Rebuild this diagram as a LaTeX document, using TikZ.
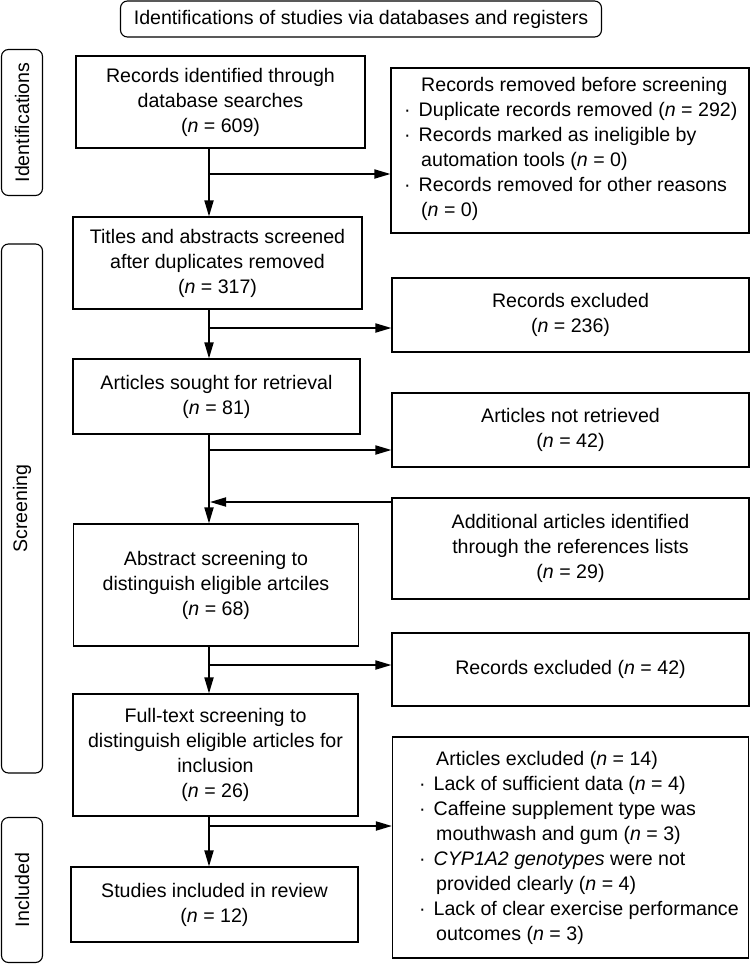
\documentclass[tikz,border=0pt]{standalone}
\usepackage{fontspec}
\setmainfont{Liberation Sans}
\usetikzlibrary{arrows.meta,positioning}
\newcommand{\itm}{\leavevmode\hspace*{-2.5pt}\llap{·\hspace{8pt}}}

\begin{document}
\begin{tikzpicture}[x=1pt,y=-1pt,
    every node/.style={font=\fontsize{19.6}{25}\selectfont},
    box/.style={draw, line width=1.1pt, inner sep=0pt, align=center},
    stage/.style={draw, line width=1.1pt, rounded corners=7pt, inner sep=0pt, rotate=90},
    arr/.style={-{Triangle[length=16pt,width=9pt]}, line width=1.8pt}]
\useasboundingbox (0,0) rectangle (750,964);

\node[box, rounded corners=7pt, minimum width=481pt, minimum height=36pt] (title) at (361,19)
    {Identifications of studies via databases and registers};

\foreach \n/\yc/\h/\t in
    {lid/122.5/146/Identifications,
     lsc/508.5/529/Screening,
     lin/890/145/Included}
{
    \node[stage, minimum width=\h pt, minimum height=41pt] (\n) at (22,\yc) {\t};
};

\node[box, minimum width=289pt, minimum height=92pt] (b1) at (220.5,102)
    {Records identified through\\database searches\\(\textit{n} = 609)};
\node[box, minimum width=289pt, minimum height=92pt] (b2) at (217.5,263)
    {Titles and abstracts screened\\after duplicates removed\\(\textit{n} = 317)};
\node[box, minimum width=287pt, minimum height=75pt] (b3) at (216.5,396.5)
    {Articles sought for retrieval\\(\textit{n} = 81)};
\node[box, minimum width=285pt, minimum height=122pt] (b4) at (216,585)
    {Abstract screening to\\distinguish eligible artciles\\(\textit{n} = 68)};
\node[box, minimum width=285pt, minimum height=122pt] (b5) at (215.5,755)
    {Full-text screening to\\distinguish eligible articles for\\inclusion\\(\textit{n} = 26)};
\node[box, minimum width=287pt, minimum height=75pt] (b6) at (214.5,904.5)
    {Studies included in review\\(\textit{n} = 12)};

\node[box, minimum width=358pt, minimum height=165pt] (r1) at (570,150.5) {};
\node[align=left, anchor=west, inner sep=0pt] (r1t) at (421,149)
    {Records removed before screening\\
     \itm Duplicate records removed (\textit{n} = 292)\\
     \itm Records marked as ineligible by\\
     automation tools (\textit{n} = 0)\\
     \itm Records removed for other reasons\\
     (\textit{n} = 0)};
\node[box, minimum width=357pt, minimum height=74pt] (r2) at (570.5,315)
    {Records excluded\\(\textit{n} = 236)};
\node[box, minimum width=357pt, minimum height=74pt] (r3) at (570.5,430)
    {Articles not retrieved\\(\textit{n} = 42)};
\node[box, minimum width=357pt, minimum height=101pt] (r4) at (570.5,548.5)
    {Additional articles identified\\through the references lists\\(\textit{n} = 29)};
\node[box, minimum width=357pt, minimum height=73pt] (r5) at (570.5,669.5)
    {Records excluded (\textit{n} = 42)};
\node[box, minimum width=356pt, minimum height=221pt] (r6) at (570.5,847.5) {};
\node[align=left, anchor=west, inner sep=0pt] (r6t) at (436,847.5)
    {Articles excluded (\textit{n} = 14)\\
     \itm Lack of sufficient data (\textit{n} = 4)\\
     \itm Caffeine supplement type was\\
     mouthwash and gum (\textit{n} = 3)\\
     \itm \textit{CYP1A2 genotypes} were not\\
     provided clearly (\textit{n} = 4)\\
     \itm Lack of clear exercise performance\\
     outcomes (\textit{n} = 3)};

\coordinate (j1) at (209,174);
\coordinate (j2) at (209,328);
\coordinate (j3) at (209,450);
\coordinate (j4) at (209,665);
\coordinate (j5) at (209,826);
\coordinate (k) at (210,502);

\foreach \a/\b/\j in {b1/b2/j1, b2/b3/j2, b3/b4/j3, b4/b5/j4, b5/b6/j5}
    \draw[arr] (\a.south -| \j) -- (\b.north -| \j);
\foreach \j/\r in {j1/r1, j2/r2, j3/r3, j4/r5, j5/r6}
    \draw[arr] (\j) -- (\j -| \r.west);
\draw[arr] (k -| r4.west) -- (k);
\end{tikzpicture}
\end{document}
